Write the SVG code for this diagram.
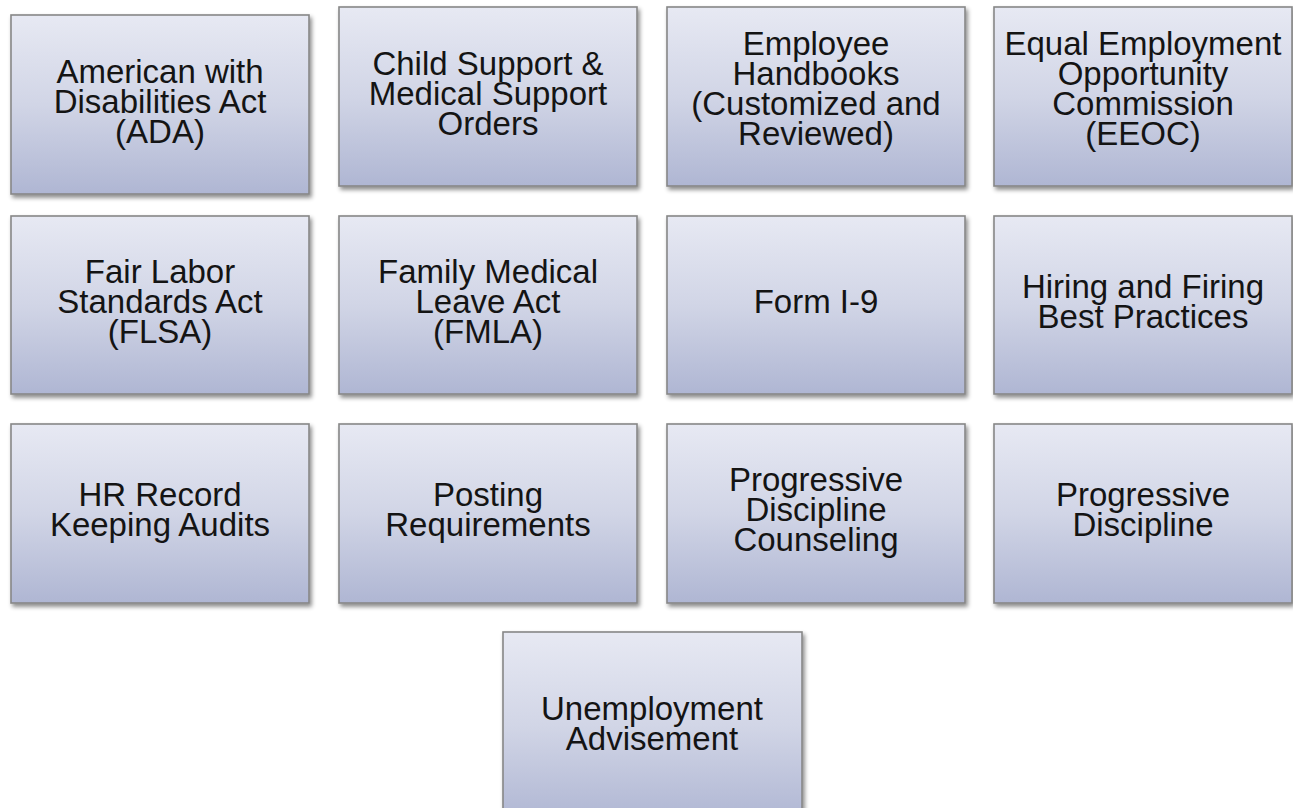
<svg xmlns="http://www.w3.org/2000/svg" width="1293" height="808" viewBox="0 0 1293 808">
<style>
  .box { fill: url(#g); stroke: #878787; stroke-width: 1.6; filter: url(#sh); }
  .t { font-family: "Liberation Sans", Arial, sans-serif; font-size: 33px; fill: #141414; text-anchor: middle; }
</style>
<defs>
  <linearGradient id="g" x1="0" y1="0" x2="0" y2="1">
    <stop offset="0" stop-color="#e7e9f3"/>
    <stop offset="0.5" stop-color="#d1d5e6"/>
    <stop offset="1" stop-color="#afb6d3"/>
  </linearGradient>
  <filter id="sh" x="-5%" y="-5%" width="115%" height="115%">
    <feDropShadow dx="2" dy="3" stdDeviation="2" flood-color="#000" flood-opacity="0.45"/>
  </filter>
</defs>
<rect width="1293" height="808" fill="#ffffff"/>

<g id="n-ada">
  <rect class="box" x="11" y="15" width="298" height="179"/>
  <text class="t" x="160" y="83">American with<tspan x="160" dy="30">Disabilities Act</tspan><tspan x="160" dy="30">(ADA)</tspan></text>
</g>
<g id="n-child">
  <rect class="box" x="339" y="7" width="298" height="179"/>
  <text class="t" x="488" y="75">Child Support &amp;<tspan x="488" dy="30">Medical Support</tspan><tspan x="488" dy="30">Orders</tspan></text>
</g>
<g id="n-handbooks">
  <rect class="box" x="667" y="7" width="298" height="179"/>
  <text class="t" x="816" y="55">Employee<tspan x="816" dy="30">Handbooks</tspan><tspan x="816" dy="30">(Customized and</tspan><tspan x="816" dy="30">Reviewed)</tspan></text>
</g>
<g id="n-eeoc">
  <rect class="box" x="994" y="7" width="298" height="179"/>
  <text class="t" x="1143" y="55">Equal Employment<tspan x="1143" dy="30">Opportunity</tspan><tspan x="1143" dy="30">Commission</tspan><tspan x="1143" dy="30">(EEOC)</tspan></text>
</g>

<g id="n-flsa">
  <rect class="box" x="11" y="216" width="298" height="178"/>
  <text class="t" x="160" y="283">Fair Labor<tspan x="160" dy="30">Standards Act</tspan><tspan x="160" dy="30">(FLSA)</tspan></text>
</g>
<g id="n-fmla">
  <rect class="box" x="339" y="216" width="298" height="178"/>
  <text class="t" x="488" y="283">Family Medical<tspan x="488" dy="30">Leave Act</tspan><tspan x="488" dy="30">(FMLA)</tspan></text>
</g>
<g id="n-i9">
  <rect class="box" x="667" y="216" width="298" height="178"/>
  <text class="t" x="816" y="313">Form I-9</text>
</g>
<g id="n-hiring">
  <rect class="box" x="994" y="216" width="298" height="178"/>
  <text class="t" x="1143" y="298">Hiring and Firing<tspan x="1143" dy="30">Best Practices</tspan></text>
</g>

<g id="n-hr">
  <rect class="box" x="11" y="424" width="298" height="179"/>
  <text class="t" x="160" y="506">HR Record<tspan x="160" dy="30">Keeping Audits</tspan></text>
</g>
<g id="n-posting">
  <rect class="box" x="339" y="424" width="298" height="179"/>
  <text class="t" x="488" y="506">Posting<tspan x="488" dy="30">Requirements</tspan></text>
</g>
<g id="n-pdc">
  <rect class="box" x="667" y="424" width="298" height="179"/>
  <text class="t" x="816" y="491">Progressive<tspan x="816" dy="30">Discipline</tspan><tspan x="816" dy="30">Counseling</tspan></text>
</g>
<g id="n-pd">
  <rect class="box" x="994" y="424" width="298" height="179"/>
  <text class="t" x="1143" y="506">Progressive<tspan x="1143" dy="30">Discipline</tspan></text>
</g>

<g id="n-unemp">
  <rect class="box" x="503" y="632" width="299" height="190"/>
  <text class="t" x="652" y="720">Unemployment<tspan x="652" dy="30">Advisement</tspan></text>
</g>
</svg>
